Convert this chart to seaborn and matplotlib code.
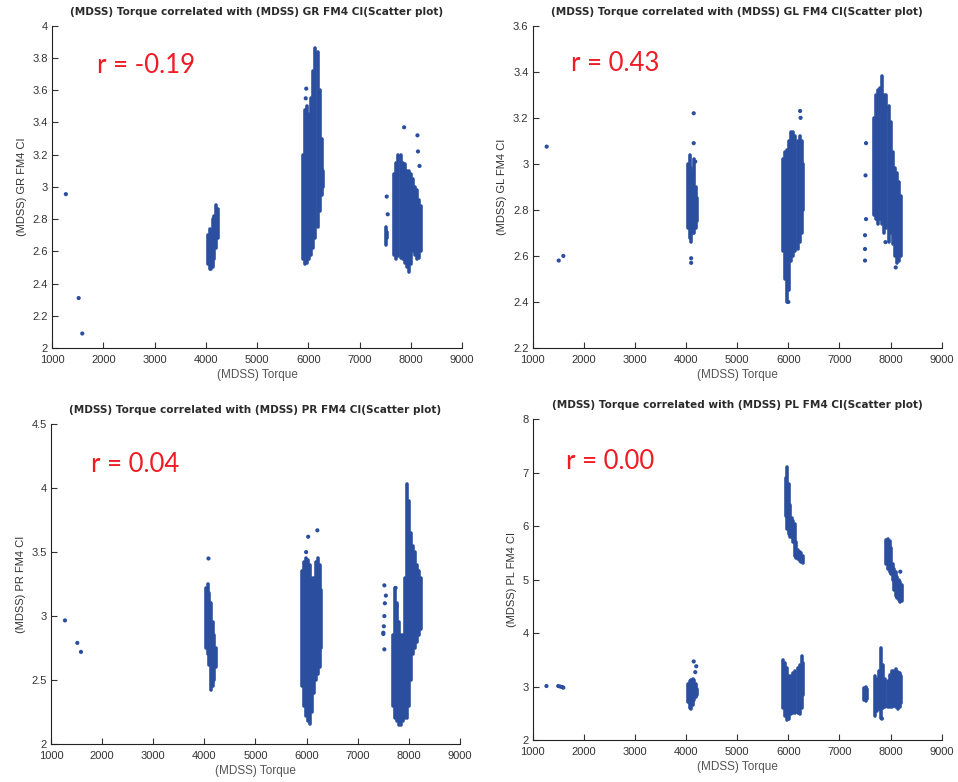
import matplotlib
matplotlib.use("Agg")
import matplotlib.pyplot as plt
import numpy as np
import pandas as pd
import seaborn as sns
from matplotlib.ticker import FuncFormatter

# ---- data ----
# dense clusters are stored as vertical strips: torque, lowest CI, highest CI
# single points / sparse dots are stored as x, y lists

# GR panel
gr_band_x = [4050, 4080, 4110, 4140, 4170, 4200, 4230,
             5900, 5940, 5980, 6020, 6060, 6100, 6140, 6180, 6220, 6260, 6290,
             7510, 7540,
             7680, 7720, 7760, 7800, 7840, 7880, 7920, 7960, 8000, 8040, 8080, 8120, 8160, 8200]
gr_band_lo = [2.52, 2.49, 2.49, 2.50, 2.55, 2.62, 2.68,
              2.55, 2.52, 2.53, 2.55, 2.58, 2.62, 2.68, 2.75, 2.85, 2.95, 3.00,
              2.64, 2.68,
              2.58, 2.55, 2.57, 2.56, 2.55, 2.53, 2.50, 2.47, 2.52, 2.60, 2.58, 2.55, 2.56, 2.60]
gr_band_hi = [2.70, 2.74, 2.72, 2.80, 2.82, 2.89, 2.86,
              3.20, 3.48, 3.50, 3.45, 3.55, 3.72, 3.86, 3.84, 3.60, 3.30, 3.10,
              2.75, 2.72,
              3.08, 3.15, 3.20, 3.20, 3.15, 3.14, 3.10, 3.10, 3.08, 3.05, 3.00, 2.98, 2.92, 2.88]
gr_pts_x = [1270, 1520, 1590, 7870, 8130, 8140, 8170, 7530, 7550, 5960, 5950]
gr_pts_y = [2.955, 2.31, 2.09, 3.37, 3.32, 3.22, 3.13, 2.94, 2.83, 3.61, 3.55]

# GL panel
gl_band_x = [4040, 4070, 4100, 4130, 4160, 4190, 4220,
             5900, 5940, 5980, 6020, 6060, 6100, 6140, 6180, 6220, 6260, 6290,
             7680, 7720, 7760, 7800, 7840, 7880, 7920, 7960, 8000, 8040, 8080, 8120, 8160, 8200]
gl_band_lo = [2.72, 2.68, 2.66, 2.70, 2.70, 2.72, 2.75,
              2.62, 2.50, 2.40, 2.45, 2.58, 2.60, 2.62, 2.63, 2.66, 2.70, 2.80,
              2.78, 2.76, 2.74, 2.76, 2.74, 2.70, 2.72, 2.66, 2.70, 2.65, 2.60, 2.57, 2.58, 2.60]
gl_band_hi = [3.00, 3.04, 2.98, 2.95, 3.02, 2.90, 2.85,
              3.02, 3.05, 3.06, 3.10, 3.14, 3.14, 3.12, 3.10, 3.12, 3.10, 3.00,
              3.20, 3.30, 3.32, 3.33, 3.38, 3.30, 3.30, 3.25, 3.18, 3.05, 2.98, 2.96, 2.92, 2.86]
gl_pts_x = [1274, 1510, 1600, 4150, 4150, 4100, 4100, 4180,
            6230, 6240, 6000, 7520, 7510, 7520, 7500, 7500, 7500, 7900, 8100]
gl_pts_y = [3.075, 2.58, 2.60, 3.22, 3.09, 2.59, 2.57, 3.01,
            3.23, 3.20, 2.40, 3.09, 2.95, 2.76, 2.69, 2.63, 2.58, 2.66, 2.55]

# PR panel
pr_band_x = [4040, 4070, 4100, 4130, 4160, 4190, 4220,
             5900, 5940, 5980, 6020, 6060, 6100, 6140, 6180, 6220, 6260, 6290,
             7680, 7720, 7760, 7800, 7840, 7880, 7920, 7960, 8000, 8040, 8080, 8120, 8160, 8200, 8230]
pr_band_lo = [2.75, 2.70, 2.62, 2.42, 2.45, 2.50, 2.60,
              2.45, 2.30, 2.22, 2.18, 2.16, 2.25, 2.40, 2.50, 2.55, 2.60, 2.75,
              2.30, 2.20, 2.18, 2.15, 2.15, 2.18, 2.20, 2.20, 2.30, 2.50, 2.70, 2.75, 2.80, 2.85, 2.90]
pr_band_hi = [3.22, 3.25, 3.18, 3.10, 2.95, 2.85, 2.75,
              3.35, 3.42, 3.45, 3.44, 3.40, 3.30, 3.30, 3.42, 3.45, 3.40, 3.20,
              2.85, 3.22, 3.10, 2.95, 2.85, 2.85, 3.30, 4.03, 3.90, 3.65, 3.55, 3.50, 3.40, 3.35, 3.30]
pr_pts_x = [1274, 1515, 1587, 4080, 6030, 6210, 5990,
            7520, 7550, 7530, 7520, 7510, 7500, 7500, 7520, 7740, 7760]
pr_pts_y = [2.966, 2.79, 2.72, 3.45, 3.62, 3.67, 3.50,
            3.24, 3.16, 3.10, 3.00, 2.92, 2.87, 2.86, 2.74, 3.22, 3.08]

# PL panel
pl_band_x = [4040, 4070, 4100, 4130, 4160, 4190, 4220,
             5900, 5940, 5980, 6020, 6060, 6100, 6140, 6180, 6220, 6260, 6290,
             5950, 5980, 6010, 6040, 6070, 6100, 6130, 6160, 6190, 6220, 6250, 6280,
             7920, 7950, 7980, 8010, 8040, 8070, 8100, 8130, 8160, 8190, 8220,
             7480, 7510, 7540,
             7700, 7740, 7780, 7820, 7860, 7900, 7940, 7980, 8020, 8060, 8100, 8140, 8180, 8210]
pl_band_lo = [2.72, 2.60, 2.58, 2.65, 2.75, 2.80, 2.85,
              2.60, 2.45, 2.38, 2.40, 2.48, 2.50, 2.50, 2.50, 2.48, 2.60, 2.85,
              6.20, 5.95, 5.85, 5.80, 5.80, 5.70, 5.45, 5.40, 5.38, 5.35, 5.33, 5.32,
              5.30, 5.20, 5.15, 5.10, 5.00, 4.80, 4.70, 4.65, 4.62, 4.58, 4.60,
              2.75, 2.73, 2.76,
              2.45, 2.55, 2.58, 2.42, 2.60, 2.62, 2.62, 2.62, 2.62, 2.64, 2.62, 2.58, 2.62, 2.70]
pl_band_hi = [3.05, 3.10, 3.12, 3.15, 3.12, 3.05, 2.95,
              3.50, 3.45, 3.35, 3.20, 3.20, 3.25, 3.30, 3.35, 3.40, 3.58, 3.45,
              6.90, 7.10, 6.80, 6.40, 6.15, 6.10, 6.05, 5.70, 5.55, 5.52, 5.50, 5.45,
              5.75, 5.77, 5.72, 5.60, 5.30, 5.20, 5.15, 5.05, 5.00, 4.95, 4.90,
              2.98, 3.00, 2.95,
              3.20, 3.15, 3.30, 3.72, 3.40, 3.15, 3.10, 3.22, 3.30, 3.30, 3.32, 3.28, 3.25, 3.20]
pl_pts_x = [1270, 1500, 1540, 1580, 1600, 4150, 4200, 4180, 8190, 7830]
pl_pts_y = [3.01, 3.01, 3.00, 2.99, 2.98, 3.47, 3.38, 3.27, 5.15, 2.40]

titles = ["(MDSS) Torque correlated with (MDSS) GR FM4 CI(Scatter plot)",
          "(MDSS) Torque correlated with (MDSS) GL FM4 CI(Scatter plot)",
          "(MDSS) Torque correlated with (MDSS) PR FM4 CI(Scatter plot)",
          "(MDSS) Torque correlated with (MDSS) PL FM4 CI(Scatter plot)"]
ylabels = ["(MDSS) GR FM4 CI", "(MDSS) GL FM4 CI", "(MDSS) PR FM4 CI", "(MDSS) PL FM4 CI"]
r_labels = ["r = -0.19", "r = 0.43", "r = 0.04", "r = 0.00"]
y_limits = [(2, 4), (2.2, 3.6), (2, 4.5), (2, 8)]
y_steps = [0.2, 0.2, 0.5, 1]

bands = [(gr_band_x, gr_band_lo, gr_band_hi), (gl_band_x, gl_band_lo, gl_band_hi),
         (pr_band_x, pr_band_lo, pr_band_hi), (pl_band_x, pl_band_lo, pl_band_hi)]
points = [(gr_pts_x, gr_pts_y), (gl_pts_x, gl_pts_y), (pr_pts_x, pr_pts_y), (pl_pts_x, pl_pts_y)]

BLUE = "#2b4f9e"

sns.set_style("white")
plt.rcParams["font.family"] = ["Liberation Sans", "DejaVu Sans"]

fig = plt.figure(figsize=(9.58, 7.82), dpi=100)
boxes = [[0.0543, 0.555, 0.428, 0.412],
         [0.556, 0.555, 0.427, 0.412],
         [0.0532, 0.0486, 0.427, 0.409],
         [0.556, 0.0537, 0.427, 0.41]]
r_pos = [(0.11, 0.876), (0.093, 0.882), (0.097, 0.873), (0.081, 0.869)]

for i in range(4):
    ax = fig.add_axes(boxes[i])
    bx, blo, bhi = bands[i]
    ax.vlines(bx, blo, bhi, colors=BLUE, lw=2.6, capstyle="round")
    px, py = points[i]
    pts = pd.DataFrame({"torque": px, "ci": py})
    sns.scatterplot(data=pts, x="torque", y="ci", ax=ax, color=BLUE, s=9,
                    edgecolor="none", linewidth=0)

    ax.set_xlim(1000, 9000)
    ax.set_ylim(*y_limits[i])
    ax.set_xticks(np.arange(1000, 9001, 1000))
    lo, hi = y_limits[i]
    ax.set_yticks(np.arange(lo, hi + 1e-6, y_steps[i]))
    ax.yaxis.set_major_formatter(FuncFormatter(lambda v, p: "%g" % round(v, 2)))
    ax.tick_params(direction="in", length=4, width=0.8, labelsize=8,
                   colors="#333333", left=True, bottom=True)
    ax.tick_params(axis="x", pad=5)
    ax.tick_params(axis="y", pad=3)
    for s in ["top", "right"]:
        ax.spines[s].set_visible(False)
    for s in ["left", "bottom"]:
        ax.spines[s].set_color("#222222")
        ax.spines[s].set_linewidth(0.8)

    ax.set_title(titles[i], fontsize=7.55, fontweight="bold", color="#2a2a2a", pad=8,
                 family=["DejaVu Sans"])
    ax.set_xlabel("(MDSS) Torque", fontsize=8.5, color="#555555", labelpad=3)
    ax.set_ylabel(ylabels[i], fontsize=8, color="#333333", labelpad=4)
    ax.text(r_pos[i][0], r_pos[i][1], r_labels[i], transform=ax.transAxes,
            color="#ee1c25", fontsize=18.5, va="center", ha="left",
            family=["Lato", "DejaVu Sans"])

fig.savefig("out.png", dpi=100)
